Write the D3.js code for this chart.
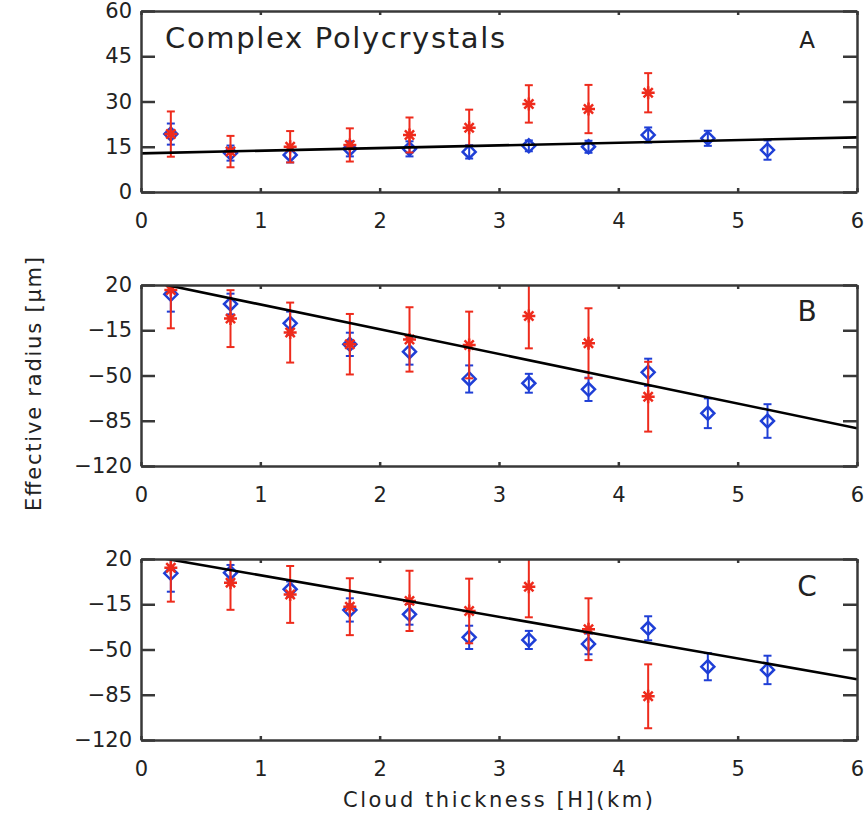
<!DOCTYPE html>
<html>
<head>
<meta charset="utf-8">
<script src="https://cdn.jsdelivr.net/npm/d3@7"></script>
<style>
  html, body { margin: 0; padding: 0; background: #fff; }
  svg text { font-family: "DejaVu Sans", sans-serif; fill: #222; }
</style>
</head>
<body>
<svg id="chart" width="864" height="816"></svg>
<script>
// Cloud thickness bins (km) shared by all panels
const thicknessBlue = [0.25, 0.75, 1.25, 1.75, 2.25, 2.75, 3.25, 3.75, 4.25, 4.75, 5.25];
const thicknessRed  = [0.25, 0.75, 1.25, 1.75, 2.25, 2.75, 3.25, 3.75, 4.25];

// Panel A
const blueA    = [19.2, 12.9, 12.3, 14.3, 14.3, 13.3, 15.3, 15.0, 18.9, 17.8, 13.9];
const blueErrA = [3.5, 2.5, 2.5, 2.5, 2.5, 2.2, 1.8, 2.0, 2.5, 2.5, 3.2];
const redA     = [19.2, 13.4, 15.0, 15.6, 18.9, 21.3, 29.2, 27.5, 32.9];
const redErrA  = [7.5, 5.2, 5.2, 5.5, 5.8, 6.0, 6.2, 8.0, 6.5];
const fitA     = [12.8, 18.1];   // fit line values at 0 km and 6 km

// Panel B
const blueB    = [12.8, 5.3, -9.6, -25.9, -31.6, -52.7, -56.0, -60.7, -47.5, -79.2, -85.2];
const blueErrB = [13.4, 8, 9, 9, 10, 10.5, 7.3, 9, 10.5, 11.5, 13];
const redB     = [16.1, -6.0, -16.8, -25.8, -22.1, -26.4, -4.0, -25.1, -66.4];
const redErrB  = [29.6, 22, 23.2, 23.4, 24.9, 25.8, 25, 27.1, 27];
const fitB     = [24.1, -90.8];

// Panel C
const blueC    = [8.9, 9.4, -3.4, -19.4, -22.8, -40.6, -42.6, -45.7, -33.6, -63.3, -65.8];
const blueErrC = [14.2, 6, 6, 9, 8, 9, 7, 8, 9.3, 10.5, 11];
const redC     = [13.3, 1.7, -7.4, -16.9, -12.4, -20.2, -1.4, -34.3, -86.2];
const redErrC  = [26.3, 21, 22, 22, 23.3, 25, 23.7, 23.9, 24.7];
const fitC     = [23.5, -73.0];

// Axis ticks and labels
const xTicks       = [0, 1, 2, 3, 4, 5, 6];
const yTicksA      = [0, 15, 30, 45, 60];
const yTickLabelsA = ["0", "15", "30", "45", "60"];
const yTicksBC      = [-120, -85, -50, -15, 20];
const yTickLabelsBC = ["\u2212120", "\u221285", "\u221250", "\u221215", "20"];

const panels = [
  { id: "A", top: 11,  bottom: 192, domain: [0, 60],    ticks: yTicksA,  labels: yTickLabelsA,
    blue: blueA, blueErr: blueErrA, red: redA, redErr: redErrA, fit: fitA, tagSize: 23, tagY: 48 },
  { id: "B", top: 285, bottom: 466, domain: [-120, 20], ticks: yTicksBC, labels: yTickLabelsBC,
    blue: blueB, blueErr: blueErrB, red: redB, redErr: redErrB, fit: fitB, tagSize: 28, tagY: 321 },
  { id: "C", top: 559, bottom: 740, domain: [-120, 20], ticks: yTicksBC, labels: yTickLabelsBC,
    blue: blueC, blueErr: blueErrC, red: redC, redErr: redErrC, fit: fitC, tagSize: 28, tagY: 596 }
];

const left = 141, right = 857;
const axisColor = "#383838";
const red = "#ee2b1c", blue = "#1f3fd6";

const svg = d3.select("#chart");
const x = d3.scaleLinear().domain([0, 6]).range([left, right]);

function asteriskPath(r) {
  const d = r * Math.SQRT1_2;
  return `M${-r},0L${r},0M0,${-r}L0,${r}M${-d},${-d}L${d},${d}M${-d},${d}L${d},${-d}`;
}
function diamondPath(r) {
  return `M0,${-r}L${r},0L0,${r}L${-r},0Z`;
}

panels.forEach((p, i) => {
  const y = d3.scaleLinear().domain(p.domain).range([p.bottom, p.top]);
  const g = svg.append("g");

  const clipId = "clip" + p.id;
  svg.append("clipPath").attr("id", clipId)
    .append("rect").attr("x", left).attr("y", p.top)
    .attr("width", right - left).attr("height", p.bottom - p.top);

  const plot = g.append("g").attr("clip-path", `url(#${clipId})`);

  function drawSeries(xs, vals, errs, color, marker) {
    const s = plot.append("g").attr("stroke", color).attr("fill", "none");
    xs.forEach((xv, k) => {
      const cx = x(xv), v = vals[k], e = errs[k];
      const y1 = y(v + e), y2 = y(v - e);
      s.append("line").attr("x1", cx).attr("x2", cx).attr("y1", y1).attr("y2", y2)
        .attr("stroke-width", 2);
      [y1, y2].forEach(cy => s.append("line")
        .attr("x1", cx - 4).attr("x2", cx + 4).attr("y1", cy).attr("y2", cy)
        .attr("stroke-width", 2));
      s.append("path").attr("transform", `translate(${cx},${y(v)})`)
        .attr("d", marker).attr("stroke-width", 2.5);
    });
  }

  drawSeries(thicknessBlue, p.blue, p.blueErr, blue, diamondPath(6.5));
  drawSeries(thicknessRed, p.red, p.redErr, red, asteriskPath(6.5));

  // linear fit across the full thickness range
  plot.append("line")
    .attr("x1", x(0)).attr("y1", y(p.fit[0]))
    .attr("x2", x(6)).attr("y2", y(p.fit[1]))
    .attr("stroke", "#000").attr("stroke-width", 2.6);

  // axes with inward ticks on all four sides
  const styleAxis = sel => {
    sel.selectAll("path.domain").attr("stroke", axisColor).attr("stroke-width", 2.5);
    sel.selectAll(".tick line").attr("stroke", axisColor).attr("stroke-width", 2.5);
    sel.selectAll(".tick text").attr("font-family", "DejaVu Sans").attr("font-size", 21).attr("fill", "#222");
  };

  g.append("g").attr("transform", `translate(0,${p.bottom})`)
    .call(d3.axisBottom(x).tickValues(xTicks).tickFormat(d3.format("d"))
      .tickSize(-4).tickSizeOuter(0).tickPadding(21))
    .call(styleAxis);
  g.append("g").attr("transform", `translate(0,${p.top})`)
    .call(d3.axisTop(x).tickValues(xTicks).tickFormat("").tickSize(-4).tickSizeOuter(0))
    .call(styleAxis);
  g.append("g").attr("transform", `translate(${left},0)`)
    .call(d3.axisLeft(y).tickValues(p.ticks).tickFormat((d, k) => p.labels[k])
      .tickSize(-14).tickSizeOuter(0).tickPadding(9))
    .call(styleAxis);
  g.append("g").attr("transform", `translate(${right},0)`)
    .call(d3.axisRight(y).tickValues(p.ticks).tickFormat("").tickSize(-14).tickSizeOuter(0))
    .call(styleAxis);

  g.selectAll(".tick text").attr("font-size", 21);

  // panel tag
  g.append("text").attr("x", 807).attr("y", p.tagY)
    .attr("text-anchor", "middle").attr("font-size", p.tagSize).text(p.id);
});

// panel A title
svg.append("text").attr("x", 165).attr("y", 48)
  .attr("font-size", 29).attr("textLength", 340).attr("lengthAdjust", "spacing")
  .text("Complex Polycrystals");

// shared axis titles
svg.append("text")
  .attr("transform", "translate(41,384) rotate(-90)")
  .attr("text-anchor", "middle").attr("font-size", 21)
  .attr("textLength", 254).attr("lengthAdjust", "spacing")
  .text("Effective radius [\u03bcm]");

svg.append("text").attr("x", 498).attr("y", 807)
  .attr("text-anchor", "middle").attr("font-size", 21)
  .attr("textLength", 310).attr("lengthAdjust", "spacing")
  .text("Cloud thickness [H](km)");
</script>
</body>
</html>
